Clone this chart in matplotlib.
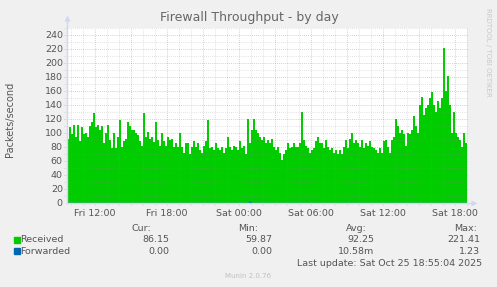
import matplotlib.pyplot as plt
import matplotlib.dates as mdates
import numpy as np
import pandas as pd

# 10-minute samples, Fri 24 Oct 09:40 -> Sat 25 Oct 18:50
start = "2025-10-24 09:40"
step = "10min"

received = [
    92, 108, 98, 112, 95, 112, 88, 108, 98, 100, 95, 110, 115, 128, 108,
    112, 105, 110, 85, 100, 112, 90, 78, 100, 78, 95, 118, 80, 88, 92,
    115, 110, 105, 105, 100, 97, 88, 82, 128, 95, 102, 92, 95, 87, 115,
    90, 82, 100, 88, 82, 95, 90,
    92, 80, 85, 80, 100, 80, 72, 85, 85, 70, 80, 88, 80, 85, 75,
    72, 82, 88, 118, 78, 80, 75, 85, 78, 75, 80, 72, 78, 95, 80,
    75, 82, 80, 75, 88, 78, 82, 70, 120, 85, 105, 120, 105, 100, 95,
    90, 95, 85, 90, 85,
    92, 80, 75, 80, 72, 62, 70, 75, 85, 78, 80, 85, 80, 80, 85,
    130, 90, 82, 78, 72, 75, 78, 88, 95, 85, 85, 78, 90, 80, 75,
    78, 72, 75, 70, 75, 70, 80, 90, 78, 92, 100, 85, 90, 85, 80,
    90, 78, 85, 82, 88,
    80, 78, 75, 72, 78, 72, 88, 90, 80, 72, 90, 95, 120, 110, 100,
    105, 98, 82, 100, 98, 105, 124, 110, 100, 140, 152, 125, 135, 140, 150,
    158, 140, 130, 145, 135, 150, 221, 160, 182, 140, 100, 130, 100, 95, 90,
    80, 100, 86,
]
forwarded = [0.0] * 91 + [1.23] + [0.0] * 108

y_ticks = list(range(0, 241, 20))
legend_rows = [
    ("Received", "#00CC00", "86.15", "59.87", "92.25", "221.41"),
    ("Forwarded", "#0066B3", "0.00", "0.00", "10.58m", "1.23"),
]

W, H = 497, 287
edges = pd.date_range(start, periods=len(received) + 1, freq=step)

fig = plt.figure(figsize=(W / 100, H / 100), dpi=100, facecolor="#F0F0F0")
ax = fig.add_axes([67 / W, 1 - 203 / H, 400 / W, 175 / H])
ax.set_facecolor("white")

rec = np.append(received, received[-1])
fwd = np.append(forwarded, forwarded[-1])
ax.fill_between(edges, rec, step="post", color="#00CC00", lw=0, zorder=2)
ax.step(edges, fwd, where="post", color="#0066B3", lw=1, zorder=3)

ax.set_xlim(edges[0], edges[-1])
ax.set_ylim(0, 250)

# grid, drawn over the data like rrdtool does
minor_col = (0.56, 0.56, 0.56, 0.35)
major_col = (0.87, 0.31, 0.31, 0.45)
dash = (0, (1, 1.5))
yt = ax.get_yaxis_transform()
for v in range(10, 251, 10):
    major = v % 20 == 0
    ax.plot([-0.008, 1], [v, v], transform=yt, clip_on=False,
            color=major_col if major else minor_col, lw=0.6, ls=dash, zorder=4)
xt = ax.get_xaxis_transform()
hours = pd.date_range("2025-10-24 10:00", "2025-10-25 19:00", freq="1h")
for h in hours:
    major = h.hour % 3 == 0
    ax.plot([h, h], [-0.012, 1], transform=xt, clip_on=False,
            color=major_col if major else minor_col, lw=0.6, ls=dash, zorder=4)

for s in ax.spines.values():
    s.set_visible(False)
axis_col = "#CFD6F8"
ax.plot([0, 0], [0, 1.04], transform=ax.transAxes, clip_on=False,
        color=axis_col, lw=1, zorder=5)
ax.plot([0, 1.013], [0, 0], transform=ax.transAxes, clip_on=False,
        color=axis_col, lw=1, zorder=5)
ax.plot([0], [1.055], transform=ax.transAxes, clip_on=False, marker="^",
        ms=4.5, color=axis_col, mec="none", zorder=5)
ax.plot([1.017], [0], transform=ax.transAxes, clip_on=False, marker=">",
        ms=4.5, color=axis_col, mec="none", zorder=5)

ax.set_yticks(y_ticks)
ax.set_yticklabels([str(v) for v in y_ticks])
ax.xaxis.set_major_locator(mdates.HourLocator(byhour=[0, 6, 12, 18]))
ax.xaxis.set_major_formatter(mdates.DateFormatter("%a %H:%M"))
ax.tick_params(length=0, labelsize=6.8, labelcolor="#555555", pad=4)
ax.tick_params(axis="y", pad=3)
ax.set_ylabel("Packets/second", fontsize=7, color="#555555")
ax.yaxis.set_label_coords(-0.13, 0.477)


def px(x, y):
    return x / W, 1 - y / H


fig.text(*px(249, 18), "Firewall Throughput - by day", fontsize=9,
         color="#666666", ha="center", va="center")
fig.text(*px(488, 52), "RRDTOOL / TOBI OETIKER", fontsize=5, color="#C8C8C8",
         rotation=-90, ha="center", va="center")

txt = dict(fontsize=6.8, color="#555555", va="center")
for x, lab in zip([151, 258, 367, 477], ["Cur:", "Min:", "Avg:", "Max:"]):
    fig.text(*px(x, 228.5), lab, ha="right", **txt)
for i, (name, col, cur, mn, avg, mx) in enumerate(legend_rows):
    y = 239.5 + i * 11.7
    fig.patches.append(plt.Rectangle(px(14, y + 3), 6 / W, 6 / H,
                                     transform=fig.transFigure, color=col))
    fig.text(*px(20.5, y), name, ha="left", **txt)
    for x, val in zip([169, 272, 374, 480], [cur, mn, avg, mx]):
        fig.text(*px(x, y), val, ha="right", **txt)
fig.text(*px(482, 263.5), "Last update: Sat Oct 25 18:55:04 2025",
         ha="right", **txt)
fig.text(*px(248, 276), "Munin 2.0.76", fontsize=5, color="#C0C0C0",
         ha="center", va="center")

fig.savefig("out.png", dpi=100, facecolor=fig.get_facecolor())
